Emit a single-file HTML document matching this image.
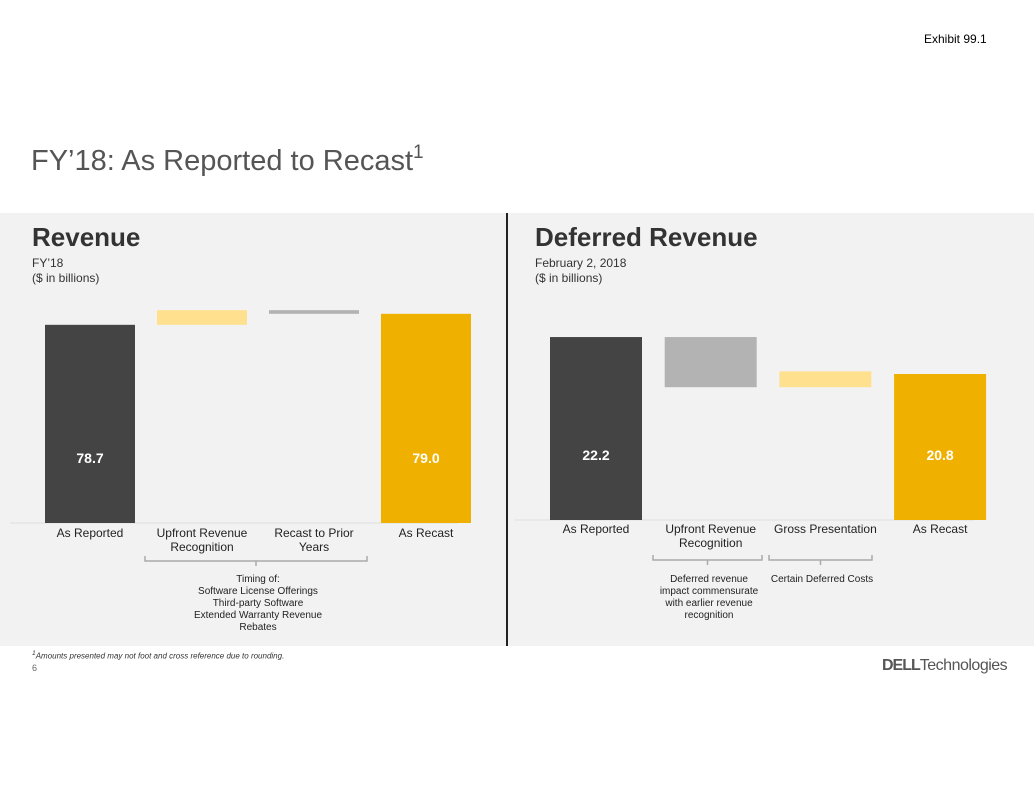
<!DOCTYPE html>
<html><head><meta charset="utf-8">
<style>
body{margin:0;width:1034px;height:799px;background:#fff;font-family:"Liberation Sans",sans-serif;position:relative;overflow:hidden}
.a{position:absolute}
</style></head>
<body>
<div class="a" style="left:924px;top:32px;font-size:12px;color:#000">Exhibit 99.1</div>
<div class="a" style="left:31px;top:142px;font-size:29px;color:#555">FY’18: As Reported to Recast<sup style="font-size:19px;vertical-align:12px">1</sup></div>
<div class="a" style="left:0;top:213px;width:1034px;height:433px;background:#f2f2f2"></div>
<div class="a" style="left:506px;top:213px;width:2px;height:433px;background:#222"></div>
<div class="a" style="left:32px;top:222px;font-size:26px;font-weight:bold;color:#333">Revenue</div>
<div class="a" style="left:32px;top:256px;font-size:12px;color:#333;line-height:15px">FY’18<br>($ in billions)</div>
<div class="a" style="left:535px;top:222px;font-size:26px;font-weight:bold;color:#333">Deferred Revenue</div>
<div class="a" style="left:535px;top:256px;font-size:12px;color:#333;line-height:15px">February 2, 2018<br>($ in billions)</div>
<div class="a" style="left:32px;top:650px;font-size:8px;font-style:italic;color:#333"><sup>1</sup>Amounts presented may not foot and cross reference due to rounding.</div>
<div class="a" style="left:32px;top:663px;font-size:9px;color:#666">6</div>
<div class="a" style="left:882px;top:657px;font-size:16px;color:#555;letter-spacing:-0.5px"><b style="letter-spacing:-1px">DELL</b>Technologies</div>
<svg class="a" style="left:0;top:0" width="1034" height="799" id="svg"></svg>
<script>
const revCats=["As Reported","Upfront Revenue\nRecognition","Recast to Prior\nYears","As Recast"];
const revVals=[78.7,0.4,-0.1,79.0];
const defCats=["As Reported","Upfront Revenue\nRecognition","Gross Presentation","As Recast"];
const defVals=[22.2,-1.9,0.6,20.8];
const NS="http://www.w3.org/2000/svg";
const svg=document.getElementById('svg');
function mk(t,a){const e=document.createElementNS(NS,t);for(const k in a)e.setAttribute(k,a[k]);svg.appendChild(e);return e;}
function chart(name,cats,vals,x0,barW,step,base,scale,minV,labY,posC,negC){
  const y=v=>base-(v-minV)*scale;
  const line=mk('line',{x1:x0-35,x2:x0+step*4-35,y1:base,y2:base,stroke:'#ddd'});
  
  
  let run=0;
  vals.forEach((v,i)=>{
    const x=x0+i*step;let top,bot,fill;
    if(i===0||i===vals.length-1){top=y(v);bot=base;fill=i===0?'#444':'#f0b000';run=v;}
    else{const n=run+v;top=y(Math.max(run,n));bot=y(Math.min(run,n));fill=v>0?posC:negC;run=n;}
    const r=mk('rect',{x:x,y:top,width:barW,height:Math.max(bot-top,1),fill:fill});
    
    
    if(i===0||i===vals.length-1){
      const t=mk('text',{x:x+barW/2,y:base-60,'text-anchor':'middle','font-size':14,'font-weight':'bold',fill:'#fff'});
      t.textContent=v.toFixed(1);
      
      
    }
    cats[i].split('\n').forEach((s,j)=>{
      const t=mk('text',{x:x+barW/2,y:labY+j*14,'text-anchor':'middle','font-size':12,fill:'#222'});
      t.textContent=s;
      
      
    });
  });
}
chart('revenue',revCats,revVals,45,90,112,523,36.7,73.3,537,'#ffe08f','#b3b3b3');
chart('deferred',defCats,defVals,550,92,114.7,520,26.4,15.27,533,'#ffe08f','#b3b3b3');
function brace(name,x1,x2,yy){
  const p=mk('path',{d:`M${x1} ${yy-5}V${yy}H${x2}V${yy-5}M${(x1+x2)/2} ${yy}V${yy+5}`,stroke:'#aaa',fill:'none','stroke-width':1.5});
  
  
}
brace('revenue-brace',145,367,561);
brace('deferred-upfront-brace',653,762,560);
brace('deferred-gross-brace',769,872,560);
function note(name,x,y0,lines){lines.forEach((s,j)=>{const t=mk('text',{x:x,y:y0+j*12,'text-anchor':'middle','font-size':10,fill:'#222'});t.textContent=s;

});}
note('revenue-timing-note',258,582,["Timing of:","Software License Offerings","Third-party Software","Extended Warranty Revenue","Rebates"]);
note('deferred-upfront-note',709,582,["Deferred revenue","impact commensurate","with earlier revenue","recognition"]);
note('deferred-gross-note',822,582,["Certain Deferred Costs"]);
</script>
</body></html>
